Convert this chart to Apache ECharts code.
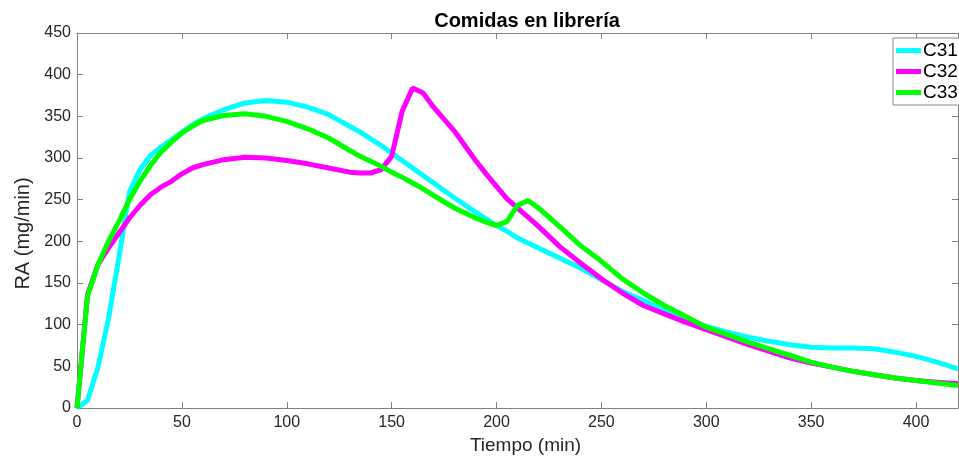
<!DOCTYPE html>
<html lang="es">
<head>
<meta charset="utf-8">
<title>Comidas en librería</title>
<script src="https://cdn.jsdelivr.net/npm/echarts@6/dist/echarts.min.js"></script>
<style>
  html, body { margin: 0; padding: 0; background: #fff; }
  #main { width: 959px; height: 459px; }
</style>
</head>
<body>
<div id="main"></div>
<script>
// tiempo (min)
var times = [0, 5, 10, 15, 20, 25, 30, 35, 40, 45, 50, 55, 60,
    70, 80, 90, 100, 110, 120, 130,
    135, 140, 145, 150, 155, 160, 165, 170,
    180, 190, 195, 200, 205, 210, 215, 220,
    230, 240, 250, 260, 270, 280, 290, 300,
    310, 320, 330, 340, 350, 360, 370, 380, 390, 400, 410, 420];

// RA (mg/min)
var c31 = [0, 9, 49, 107, 181, 259, 286, 303, 313, 322, 331, 340, 347,
    358, 366, 369, 367, 361, 352, 338,
    331, 323, 315, 306, 297, 288, 279, 270,
    252, 235, 227, 219, 212, 204, 198, 192,
    180, 168, 154, 140, 129, 117, 107, 98,
    91, 85, 80, 76, 73, 72, 72, 71, 67, 62, 55, 47];

var c32 = [0, 136, 172, 192, 210, 228, 243, 256, 265, 272, 281, 288, 292,
    298, 301, 300, 297, 293, 288, 283,
    282, 282, 286, 302, 356, 384, 378, 361,
    332, 297, 281, 266, 251, 240, 229, 218,
    194, 174, 155, 138, 123, 113, 103, 94,
    85, 76, 68, 60, 54, 49, 44, 40, 36, 33, 31, 29];

var c33 = [0, 134, 172, 200, 224, 250, 272, 291, 307, 319, 330, 338, 345,
    351, 353, 350, 344, 335, 324, 309,
    302, 296, 290, 283, 277, 270, 263, 255,
    240, 228, 223, 219, 224, 243, 249, 240,
    218, 195, 176, 155, 138, 123, 110, 97,
    88, 79, 71, 63, 55, 49, 44, 40, 36, 33, 30, 27];

var seriesNames = ['C31', 'C32', 'C33'];
var colors = ['#00ffff', '#ff00ff', '#00ff00'];

function pairs(vals) {
    return times.map(function (t, i) { return [t, vals[i]]; });
}

var font = 'Liberation Sans, Arial, sans-serif';
var axisColor = '#808080';

var myChart = echarts.init(document.getElementById('main'));

var option = {
    animation: false,
    color: colors,
    title: {
        text: 'Comidas en librería',
        left: 522,
        top: 6,
        textAlign: 'center',
        textStyle: { fontFamily: font, fontSize: 20, fontWeight: 'bold', color: '#000' }
    },
    legend: {
        data: seriesNames,
        orient: 'vertical',
        left: 893,
        top: 38,
        icon: 'rect',
        itemWidth: 25,
        itemHeight: 5,
        itemGap: 2,
        itemStyle: { borderWidth: 0 },
        padding: [3, 4, 3, 3],
        borderColor: '#888',
        borderWidth: 1,
        backgroundColor: '#fff',
        textStyle: { fontFamily: font, fontSize: 19, color: '#000', padding: [0, 0, 0, -3] }
    },
    grid: { left: 77, right: 1, top: 33, bottom: 51, containLabel: false, outerBoundsMode: 'none' },
    xAxis: [{
        type: 'value',
        min: 0,
        max: 420,
        interval: 50,
        name: 'Tiempo (min)',
        nameLocation: 'middle',
        nameGap: 27,
        nameTextStyle: { fontFamily: font, fontSize: 19, color: '#262626', padding: [0, 0, 0, 16] },
        axisLine: { show: true, lineStyle: { color: axisColor, width: 1 } },
        axisTick: { show: true, inside: true, length: 6, lineStyle: { color: axisColor } },
        axisLabel: { fontFamily: font, fontSize: 16, color: '#262626', margin: 7, showMaxLabel: false },
        splitLine: { show: false }
    }, {
        type: 'value',
        position: 'top',
        min: 0,
        max: 420,
        interval: 50,
        axisLine: { show: true, onZero: false, lineStyle: { color: axisColor, width: 1 } },
        axisTick: { show: true, inside: true, length: 6, lineStyle: { color: axisColor } },
        axisLabel: { show: false },
        splitLine: { show: false }
    }],
    yAxis: [{
        type: 'value',
        min: 0,
        max: 450,
        interval: 50,
        name: 'RA (mg/min)',
        nameLocation: 'middle',
        nameGap: 42,
        nameRotate: 90,
        nameTextStyle: { fontFamily: font, fontSize: 20, color: '#262626', padding: [0, 26, 0, 0] },
        axisLine: { show: true, lineStyle: { color: axisColor, width: 1 } },
        axisTick: { show: true, inside: true, length: 6, lineStyle: { color: axisColor } },
        axisLabel: { fontFamily: font, fontSize: 16, color: '#262626', margin: 6 },
        splitLine: { show: false }
    }, {
        type: 'value',
        position: 'right',
        min: 0,
        max: 450,
        interval: 50,
        axisLine: { show: true, onZero: false, lineStyle: { color: axisColor, width: 1 } },
        axisTick: { show: true, inside: true, length: 6, lineStyle: { color: axisColor } },
        axisLabel: { show: false },
        splitLine: { show: false }
    }],
    series: [
        { name: 'C31', type: 'line', data: pairs(c31), showSymbol: false, smooth: false,
          lineStyle: { width: 5, color: colors[0] } },
        { name: 'C32', type: 'line', data: pairs(c32), showSymbol: false, smooth: false,
          lineStyle: { width: 5, color: colors[1] } },
        { name: 'C33', type: 'line', data: pairs(c33), showSymbol: false, smooth: false,
          lineStyle: { width: 5, color: colors[2] } }
    ]
};

myChart.setOption(option);
</script>
</body>
</html>
